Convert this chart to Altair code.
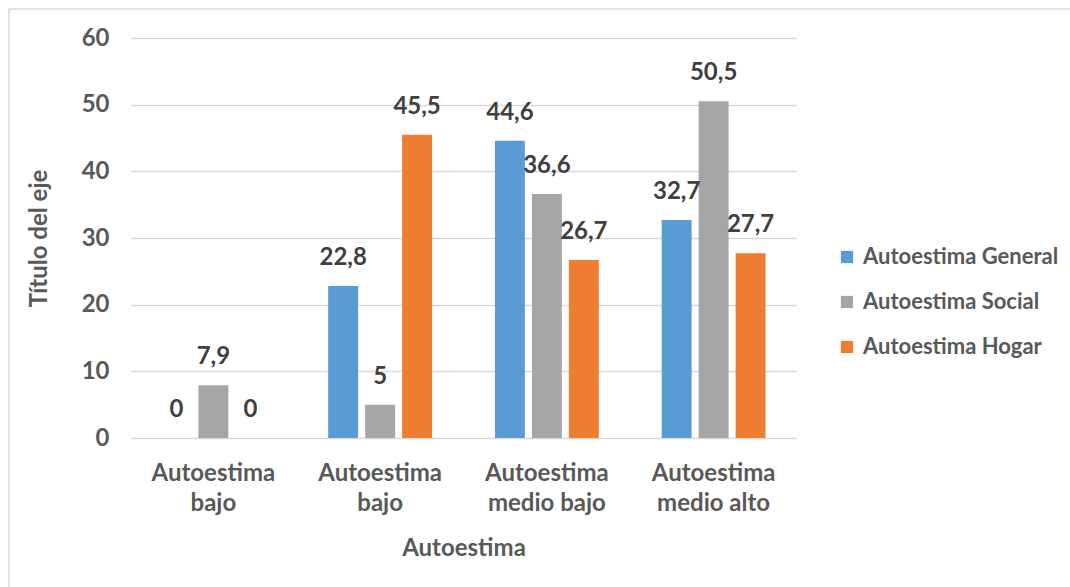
import altair as alt
import pandas as pd

# Categories along the x axis (two groups share the same printed label)
categories = ["Autoestima bajo", "Autoestima bajo", "Autoestima medio bajo", "Autoestima medio alto"]
series = ["Autoestima General", "Autoestima Social", "Autoestima Hogar"]
colors = ["#5b9bd5", "#a5a5a5", "#ed7d31"]

general = [0, 22.8, 44.6, 32.7]
social = [7.9, 5, 36.6, 50.5]
hogar = [0, 45.5, 26.7, 27.7]

y_ticks = [0, 10, 20, 30, 40, 50, 60]

rows = []
for i, cat in enumerate(categories):
    for s, vals in zip(series, [general, social, hogar]):
        rows.append({"idx": i, "cat": cat, "serie": s, "valor": vals[i]})
df = pd.DataFrame(rows)

# Two-line tick labels: first word on top, the rest underneath
lines = [c.split(" ", 1) for c in categories]
label_expr = "[" + ",".join(
    "[" + ",".join(f"'{p}'" for p in parts) + "]" for parts in lines
) + "][datum.value]"

FONT = "Lato"
TXT = "#595959"
GRID = "#d9d9d9"
FS = 24

W, H = 667, 400
PAD_L, PAD_T = 130, 38
PAD_R, PAD_B = 1070 - PAD_L - W, 587 - PAD_T - H

x = alt.X(
    "idx:O",
    scale=alt.Scale(paddingInner=0, paddingOuter=0),
    axis=alt.Axis(
        title="Autoestima",
        labelExpr=label_expr,
        labelAngle=0,
        labelFont=FONT,
        labelFontSize=FS,
        labelFontWeight="bold",
        labelColor=TXT,
        labelPadding=23,
        labelLineHeight=30,
        labelBaseline="top",
        ticks=False,
        domain=False,
        titleFont=FONT,
        titleFontSize=FS,
        titleFontWeight="bold",
        titleColor=TXT,
        titlePadding=21,
    ),
)
xoff = alt.XOffset(
    "serie:N",
    sort=series,
    scale=alt.Scale(paddingInner=0.19, paddingOuter=0.85),
)
y = alt.Y(
    "valor:Q",
    scale=alt.Scale(domain=[0, 60], nice=False),
    axis=alt.Axis(
        title="Título del eje",
        values=y_ticks,
        labelFont=FONT,
        labelFontSize=FS,
        labelFontWeight="bold",
        labelColor=TXT,
        labelPadding=21,
        ticks=False,
        domain=False,
        gridColor=GRID,
        gridWidth=1.5,
        titleFont=FONT,
        titleFontSize=FS,
        titleFontWeight="bold",
        titleColor=TXT,
        titlePadding=30,
    ),
)
color = alt.Color(
    "serie:N",
    sort=series,
    scale=alt.Scale(domain=series, range=colors),
    legend=alt.Legend(
        title=None,
        orient="none",
        legendX=706,
        legendY=208,
        symbolType="square",
        symbolSize=150,
        symbolStrokeWidth=0,
        labelFont=FONT,
        labelFontSize=22,
        labelFontWeight="bold",
        labelColor=TXT,
        labelOffset=5,
        rowPadding=23,
        labelLimit=400,
    ),
)

bars = alt.Chart(df).mark_bar().encode(x=x, xOffset=xoff, y=y, color=color)

labels = (
    alt.Chart(df)
    .transform_calculate(txt="replace(toString(datum.valor), '.', ',')")
    .mark_text(font=FONT, fontSize=FS, fontWeight="bold", color="#404040", baseline="middle", dy=-28)
    .encode(x=x, xOffset=xoff, y=y, text="txt:N")
)

# Chart-area frame (left and top edges)
frame_left = alt.Chart().mark_rule(color=GRID, strokeWidth=1.5).encode(
    x=alt.value(9 - PAD_L), y=alt.value(9 - PAD_T), y2=alt.value(587 - PAD_T)
)
frame_top = alt.Chart().mark_rule(color=GRID, strokeWidth=1.5).encode(
    x=alt.value(9 - PAD_L), x2=alt.value(1070 - PAD_L), y=alt.value(9 - PAD_T)
)

chart = (
    alt.layer(bars, labels, frame_left, frame_top)
    .properties(
        width=W,
        height=H,
        autosize=alt.AutoSizeParams(type="none"),
        padding={"left": PAD_L, "top": PAD_T, "right": PAD_R, "bottom": PAD_B},
        background="white",
    )
    .configure_view(stroke=None)
)

chart.save("out.html", embed_options={"renderer": "svg", "actions": False})
